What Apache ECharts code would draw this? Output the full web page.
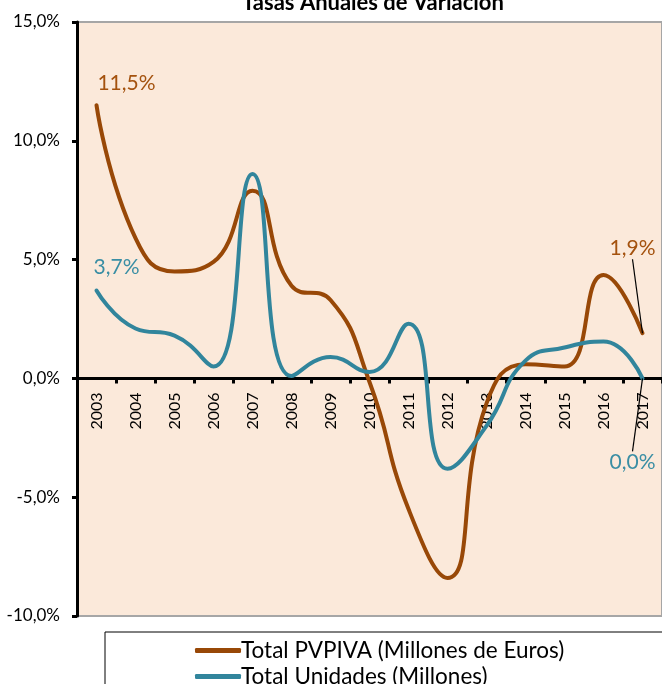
<!DOCTYPE html>
<html>
<head>
<meta charset="utf-8">
<script src="https://cdn.jsdelivr.net/npm/echarts@6/dist/echarts.min.js"></script>
<style>
  html, body { margin: 0; padding: 0; background: #fff; }
  #main { width: 662px; height: 684px; }
</style>
</head>
<body>
<div id="main"></div>
<script>
const years = ['2003', '2004', '2005', '2006', '2007', '2008', '2009', '2010',
  '2011', '2012', '2013', '2014', '2015', '2016', '2017'];
// tasas en %
const pvpiva = [11.5, 5.9, 4.5, 4.9, 7.9, 3.9, 3.3, -0.15, -5.5, -8.4, -1.05, 0.6, 0.5, 4.35, 1.9];
const unidades = [3.7, 2.1, 1.8, 0.5, 8.6, 0.1, 0.9, 0.27, 2.3, -3.8, -2.0, 0.75, 1.3, 1.55, 0.0];
const yTicks = [-10, -5, 0, 5, 10, 15];

const font = 'Lato';
const orange = '#984807';
const teal = '#31859C';

const fmt = v => v.toFixed(1).replace('.', ',') + '%';

// etiquetas solo en primer y último año
function withLabels(values, color) {
  const last = values.length - 1;
  return values.map((v, i) => {
    if (i === 0 || i === last) {
      return { value: v, label: { show: true, position: 'top', color: color }, labelLine: { show: i === last } };
    }
    return v;
  });
}

// desplazamiento de las etiquetas (primer punto / último punto)
function moveLabels(first, last, n) {
  return p => {
    if (p.dataIndex === 0) return { dx: first[0], dy: first[1] };
    if (p.dataIndex === n - 1) return { dx: last[0], dy: last[1] };
    return {};
  };
}

const myCharts = echarts.init(document.querySelector('#main'));

const gridTop = 22, gridH = 594;
// eje X colocado sobre el 0
const zeroShift = gridH * (0 - yTicks[0]) / (yTicks[yTicks.length - 1] - yTicks[0]);

const option = {
  backgroundColor: '#fff',
  title: {
    text: 'Tasas Anuales de Variación',
    left: 368,
    textAlign: 'center',
    top: -13,
    textStyle: { fontFamily: font, fontSize: 22, fontWeight: 'bold', color: '#000' }
  },
  legend: {
    data: ['Total PVPIVA (Millones de Euros)', 'Total Unidades (Millones)'],
    orient: 'vertical',
    left: 105,
    top: 632,
    height: 120,
    padding: [7, 120, 20, 90],
    itemGap: 3,
    itemWidth: 46,
    itemHeight: 5,
    icon: 'roundRect',
    borderColor: '#000',
    borderWidth: 1,
    textStyle: { fontFamily: font, fontSize: 22.5, lineHeight: 22, color: '#000', padding: [0, 0, 0, -5] }
  },
  grid: {
    left: 77,
    top: gridTop,
    width: 590,
    height: gridH,
    show: true,
    backgroundColor: '#FBE9DA',
    borderColor: '#A6A6A6',
    borderWidth: 2
  },
  xAxis: {
    type: 'category',
    data: years,
    boundaryGap: true,
    offset: -zeroShift,
    axisLine: { onZero: false, lineStyle: { color: '#000', width: 3 } },
    axisTick: { show: true, length: 5, lineStyle: { color: '#000', width: 3 } },
    axisLabel: { rotate: 90, margin: 14, fontFamily: font, fontSize: 16, color: '#000' },
    splitLine: { show: false }
  },
  yAxis: {
    type: 'value',
    min: yTicks[0],
    max: yTicks[yTicks.length - 1],
    interval: 5,
    axisLine: { show: true, lineStyle: { color: '#000', width: 3 } },
    axisTick: { show: true, length: 5, lineStyle: { color: '#000', width: 3 } },
    axisLabel: { formatter: fmt, fontFamily: font, fontSize: 17, color: '#000', margin: 17 },
    splitLine: { show: false }
  },
  series: [
    {
      name: 'Total PVPIVA (Millones de Euros)',
      type: 'line',
      data: withLabels(pvpiva, '#A4520E'),
      smooth: 0.5,
      symbol: 'circle',
      symbolSize: 0.1,
      showSymbol: true,
      color: orange,
      lineStyle: { width: 4, color: orange, cap: 'round' },
      label: { fontFamily: font, fontSize: 21, formatter: p => fmt(p.value) },
      labelLine: { lineStyle: { color: '#000', width: 1.2 } },
      labelLayout: moveLabels([30, -6], [-10, -69], pvpiva.length)
    },
    {
      name: 'Total Unidades (Millones)',
      type: 'line',
      data: withLabels(unidades, '#3A8EA4'),
      smooth: 0.5,
      symbol: 'circle',
      symbolSize: 0.1,
      showSymbol: true,
      color: teal,
      lineStyle: { width: 4, color: teal, cap: 'round' },
      label: { fontFamily: font, fontSize: 21, formatter: p => fmt(p.value) },
      labelLine: { lineStyle: { color: '#000', width: 1.2 } },
      labelLayout: moveLabels([20, -8], [-10, 99], unidades.length)
    }
  ]
};

myCharts.setOption(option);
</script>
</body>
</html>
